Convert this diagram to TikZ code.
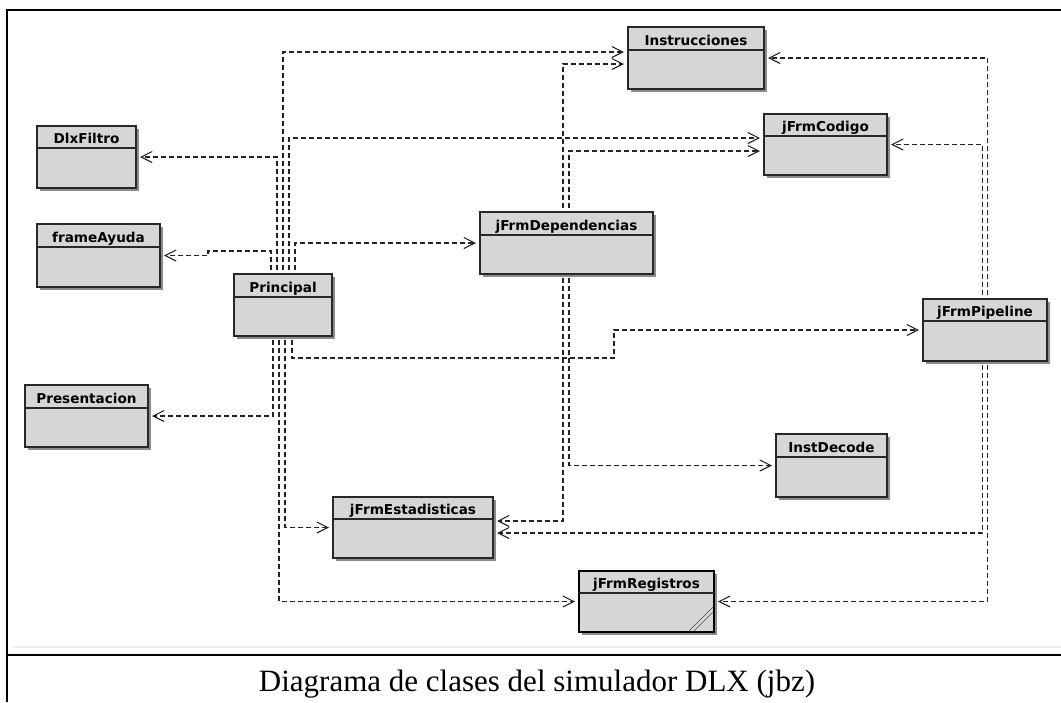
\documentclass[tikz,border=0pt]{standalone}
\usepackage{fontspec}
\setmainfont{Liberation Serif}
\newfontfamily\boxfont{DejaVu Sans}
\usetikzlibrary{arrows.meta}
\definecolor{boxfill}{RGB}{214,214,214}
\definecolor{boxline}{RGB}{40,40,40}
\definecolor{depcol}{RGB}{35,35,35}
\tikzset{
  classbox/.style={draw=boxline, fill=boxfill, line width=1.4pt, inner sep=0pt, outer sep=0pt},
  depend/.style={draw=depcol, line width=1.05pt, dash pattern=on 5pt off 3pt,
    -{Straight Barb[length=11pt,width=11pt,line width=1.05pt]}, shorten <=4pt, shorten >=4pt},
  ctitle/.style={font=\boxfont\bfseries\fontsize{13.6}{15}\selectfont, anchor=base, inner sep=0pt, text=black},
  frameline/.style={draw=black, line width=2pt},
}
% [extra style]{name}{x1}{y1}{x2}{y2}{header y}{title}
\newcommand{\umlclass}[8][]{%
  \fill[black!45] (#3+2.5,#4+2.5) rectangle (#5+2.5,#6+2.5);
  \node[classbox, #1, anchor=north west, minimum width={#5-#3}, minimum height={#6-#4}] (#2) at (#3,#4) {};
  \draw[boxline, line width=1.1pt] (#3,#7) -- (#5,#7);
  \node[ctitle] (#2-t) at ({(#3+#5)/2},#7-4.3) {#8};
}
\begin{document}
\begin{tikzpicture}[x=1pt,y=-1pt]
\fill[white] (0,0) rectangle (1061,702);
\useasboundingbox (0,0) rectangle (1061,702);
% frame
\draw[frameline] (1061,10) -- (7,10) -- (7,702);
\draw[black!7, line width=1.5pt] (13,647) -- (1061,647);
\draw[frameline] (7,655) -- (1061,655);
% classes
\umlclass{dlx}{37}{126}{136}{188}{148}{DlxFiltro}
\umlclass{fa}{37}{224}{160}{287}{247}{frameAyuda}
\umlclass{prin}{234}{274}{332}{336}{297}{Principal}
\umlclass{pres}{25}{385}{148}{447}{408}{Presentacion}
\umlclass{instr}{628}{27}{764}{89}{50}{Instrucciones}
\umlclass{cod}{764}{114}{887}{175}{136}{jFrmCodigo}
\umlclass{depe}{480}{212}{653}{274}{235}{jFrmDependencias}
\umlclass{pipe}{923}{299}{1047}{361}{321}{jFrmPipeline}
\umlclass{idec}{776}{434}{887}{497}{457}{InstDecode}
\umlclass{est}{333}{497}{493}{558}{519}{jFrmEstadisticas}
\umlclass[draw=black, line width=2.8pt]{reg}{579}{571}{714}{632}{593}{jFrmRegistros}
\draw[black!70, line width=0.6pt] (689,631) -- (713,607);
\draw[black!70, line width=0.6pt] (694,631) -- (713,612);
% dependencies from Principal
\draw[depend] ([xshift=-12pt]prin.north) |- (208,251) |- (fa.east);
\draw[depend] ([xshift=-6pt]prin.north) |- (dlx.east);
\draw[depend] (prin.north) |- ([yshift=6pt]instr.west);
\draw[depend] ([xshift=6pt]prin.north) |- ([yshift=6.5pt]cod.west);
\draw[depend] ([xshift=12pt]prin.north) |- (depe.west);
\draw[depend] ([xshift=-10pt]prin.south) |- (pres.east);
\draw[depend] ([xshift=-4pt]prin.south) |- (reg.west);
\draw[depend] ([xshift=2pt]prin.south) |- (est.west);
\draw[depend] ([xshift=9pt]prin.south) |- (614,358) |- (pipe.west);
% from jFrmDependencias
\draw[depend] ([xshift=-3.5pt]depe.north) |- ([yshift=-6pt]instr.west);
\draw[depend] ([xshift=2.5pt]depe.north) |- ([yshift=-6.5pt]cod.west);
\draw[depend] ([xshift=-3.5pt]depe.south) |- ([yshift=6.5pt]est.east);
\draw[depend] ([xshift=2.5pt]depe.south) |- (idec.west);
% from jFrmPipeline
\draw[depend] ([xshift=-2.3pt]pipe.north) |- (cod.east);
\draw[depend] ([xshift=2.7pt]pipe.north) |- (instr.east);
\draw[depend] ([xshift=-2.3pt]pipe.south) |- ([yshift=-5.5pt]est.east);
\draw[depend] ([xshift=2.7pt]pipe.south) |- (reg.east);
% caption
\node[font=\fontsize{31}{35}\selectfont, anchor=base, inner sep=0pt] (cap) at (537,691) {Diagrama de clases del simulador DLX (jbz)};
\end{tikzpicture}
\end{document}
